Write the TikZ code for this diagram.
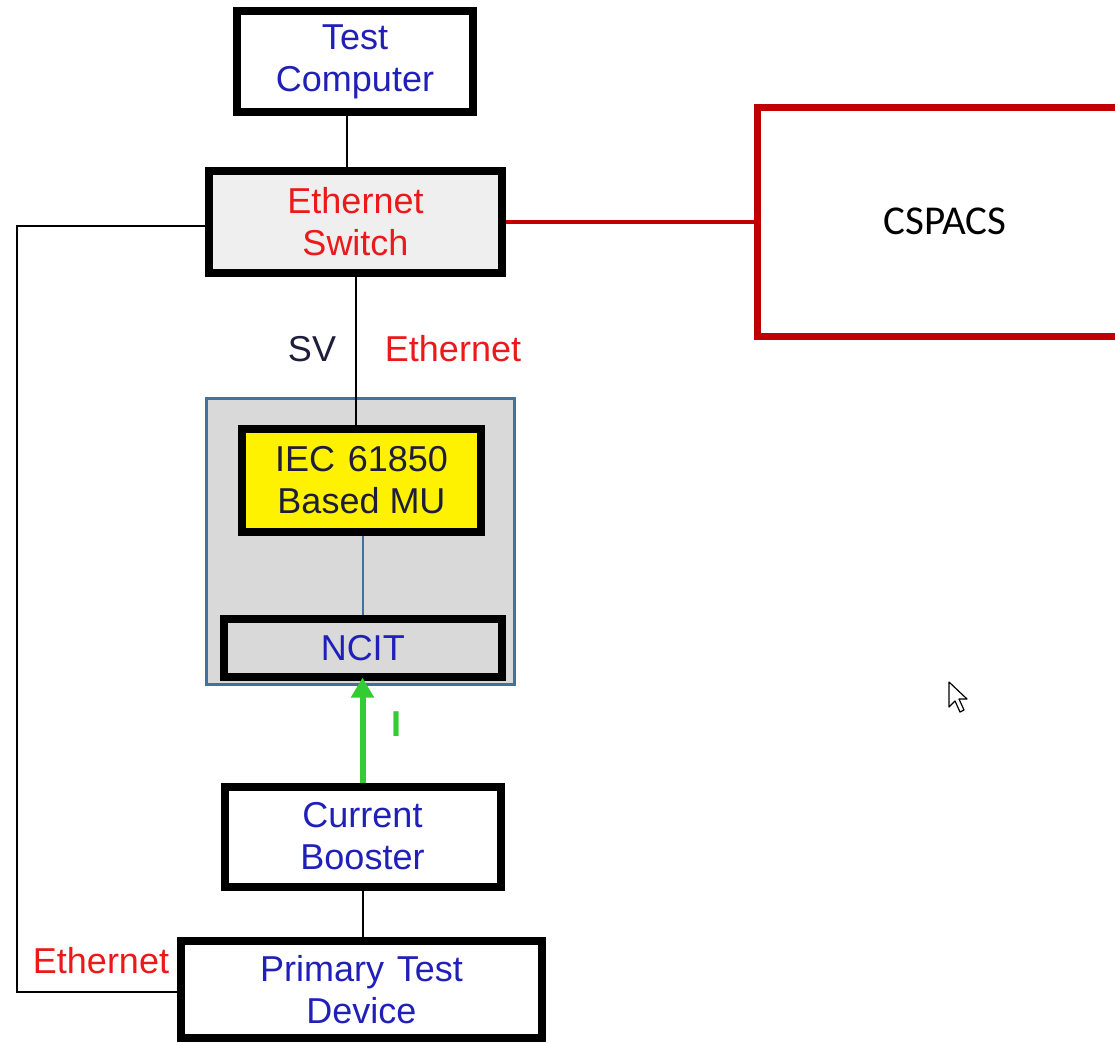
\documentclass[tikz,border=0pt]{standalone}
\usepackage{fontspec}
\setmainfont{Liberation Sans}
\newfontfamily\calibrilike{Carlito}
\usetikzlibrary{arrows.meta}

\definecolor{txtblue}{RGB}{32,32,185}
\definecolor{txtred}{RGB}{235,25,25}
\definecolor{txtdark}{RGB}{30,30,60}
\definecolor{boxred}{RGB}{192,0,0}
\definecolor{frameblue}{RGB}{65,113,156}
\definecolor{panelgray}{RGB}{217,217,217}
\definecolor{switchgray}{RGB}{239,239,239}
\definecolor{arrowgreen}{RGB}{51,204,51}

\tikzset{
  unit/.style={draw=black, line width=8pt, rectangle, inner sep=0pt, align=center,
    font=\fontsize{36}{42}\selectfont},
  lbl/.style={inner sep=0pt, font=\fontsize{36}{42}\selectfont},
  wire/.style={draw=black, line width=2pt},
}

\begin{document}
\begin{tikzpicture}[x=1pt, y=-1pt]
\useasboundingbox (0,0) rectangle (1115,1042);
\clip (0,0) rectangle (1115,1042);

% units
\node[unit, minimum width=235.5pt, minimum height=101pt, text=txtblue]
  (tc) at (355,61.5) {Test\\Computer};
\node[unit, fill=switchgray, minimum width=293pt, minimum height=102pt, text=txtred]
  (sw) at (355.5,222) {Ethernet\\Switch};

% CSPACS
\node[draw=boxred, line width=7pt, rectangle, minimum width=443pt, minimum height=229.5pt]
  (cs) at (978.5,222) {};
\node[inner sep=0pt, font=\calibrilike\fontsize{41}{48}\selectfont] (cst) at (945,221) {CSPACS};

% merging unit panel
\node[draw=frameblue, fill=panelgray, line width=2.5pt, rectangle,
  minimum width=308pt, minimum height=286pt] (ct) at (360.5,541.5) {};
\node[unit, fill=yellow, minimum width=239pt, minimum height=103pt, text=txtdark]
  (mu) at (361.5,480.5) {IEC\hspace{0.35em}61850\\Based MU};
\node[unit, fill=panelgray, minimum width=278.5pt, minimum height=57.5pt, text=txtblue]
  (ncit) at (362.75,647.75) {NCIT};

\node[unit, minimum width=276pt, minimum height=100pt, text=txtblue]
  (cb) at (362.5,836.5) {Current\\Booster};
\node[unit, minimum width=361pt, minimum height=97pt, text=txtblue]
  (ptd) at (361.5,989.5) {Primary\hspace{0.35em}Test\\Device};

% connectors
\draw[wire] ([xshift=-8pt]tc.south) -- ([xshift=-8pt]tc.south |- sw.north);
\draw[wire] (sw.south) -- (sw.south |- mu.north);
\draw[draw=boxred, line width=3.5pt] (sw.east) -- (cs.west);
\draw[draw=frameblue, line width=1.5pt] ([xshift=1.5pt]mu.south) -- ([xshift=1.5pt]mu.south |- ncit.north);
\draw[draw=arrowgreen, line width=6pt, -{Triangle[width=22pt,length=20pt]}, shorten >=-3pt]
  (cb.north) -- (cb.north |- ncit.south);
\draw[wire] (cb.south) -- (cb.south |- ptd.north);
\draw[wire] ([yshift=-4pt]sw.west) -- ++(-188,0) coordinate (bend) |- ([yshift=-2.5pt]ptd.west);

% labels
\node[lbl, text=txtdark] (sv) at (312,349) {SV};
\node[lbl, text=txtred] (eth1) at (453,349) {Ethernet};
\node[lbl, text=arrowgreen, font=\bfseries\fontsize{36}{42}\selectfont] (cur) at (396,724) {I};
\node[lbl, text=txtred] (eth2) at (101,961) {Ethernet};

% pointer
\draw[fill=white, line width=1.2pt, line join=round]
  (949,682) -- ++(0,25) -- ++(6,-6) -- ++(5,11) -- ++(4,-2) -- ++(-5,-11) -- ++(8,0) -- cycle;
\end{tikzpicture}
\end{document}
